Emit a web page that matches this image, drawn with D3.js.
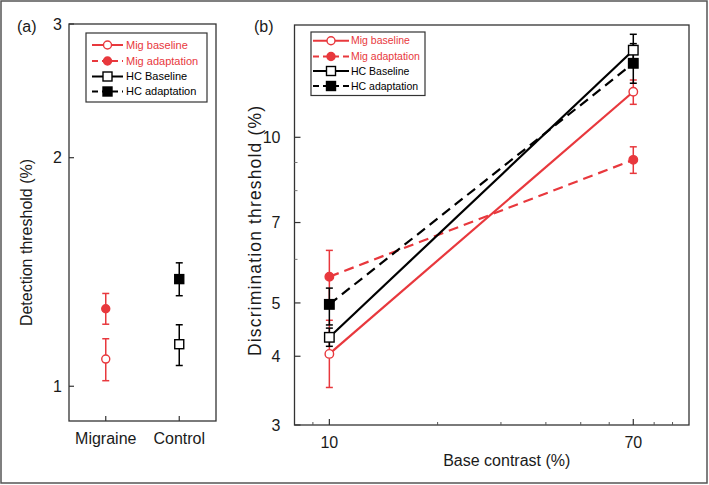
<!DOCTYPE html>
<html><head><meta charset="utf-8">
<script src="https://cdn.jsdelivr.net/npm/d3@7"></script>
<style>body{margin:0;background:#fff}svg{display:block;font-family:"Liberation Sans",Arial,Helvetica,sans-serif}</style>
</head><body><svg id="c" width="709" height="485"></svg>
<script>
// ---------- data ----------
const seriesNames = ["Mig baseline", "Mig adaptation", "HC Baseline", "HC adaptation"];
const seriesGroup = ["Migraine", "Migraine", "Control", "Control"];
const groupCategories = ["Migraine", "Control"];
// panel (a) detection threshold (%)
const detMean = [1.086, 1.265, 1.136, 1.384];
const detLo   = [1.017, 1.207, 1.065, 1.316];
const detHi   = [1.155, 1.325, 1.205, 1.454];
// panel (b) discrimination threshold (%) vs base contrast (%)
const contrasts = [10, 70];
const discMigBase    = [4.04, 12.1];
const discMigBaseLo  = [3.51, 11.48];
const discMigBaseHi  = [4.65, 12.71];
const discMigAdapt   = [5.58, 9.1];
const discMigAdaptLo = [5.0, 8.6];
const discMigAdaptHi = [6.23, 9.61];
const discHCBase     = [4.33, 14.4];
const discHCBaseLo   = [4.17, 13.47];
const discHCBaseHi   = [4.5, 15.39];
const discHCAdapt    = [4.97, 13.63];
const discHCAdaptLo  = [4.56, 12.54];
const discHCAdaptHi  = [5.32, 14.8];
// ticks
const yTicksA = [1, 2, 3];
const yTicksB = [3, 4, 5, 7, 10];
const yMinorB = [6, 8, 9];
const xTicksB = [10, 70];
const xMinorB = [9, 20, 30, 40, 50, 60, 80, 90];

// ---------- styles ----------
const RED = "#e8383d", BLK = "#000";
const colors = [RED, RED, BLK, BLK];
const dashed = [false, true, false, true];
const filled = [false, true, false, true];
const shapes = ["circle", "circle", "square", "square"];
const AX = "#333";
const TXT = "#1a1a1a";
const FS = 16;

const svg = d3.select("#c");
svg.append("rect").attr("x", 1).attr("y", 1).attr("width", 706).attr("height", 482)
  .attr("fill", "none").attr("stroke", "#555").attr("stroke-width", 1.5);

function marker(g, i, x, y, size) {
  if (shapes[i] === "circle") {
    g.append("circle").attr("cx", x).attr("cy", y).attr("r", size / 2)
      .attr("fill", filled[i] ? colors[i] : "#fff").attr("stroke", colors[i]).attr("stroke-width", 1.4);
  } else {
    g.append("rect").attr("x", x - size / 2).attr("y", y - size / 2).attr("width", size).attr("height", size)
      .attr("fill", filled[i] ? colors[i] : "#fff").attr("stroke", colors[i]).attr("stroke-width", 1.4);
  }
}
function errbar(g, i, x, y1, y2) {
  g.append("line").attr("x1", x).attr("x2", x).attr("y1", y1).attr("y2", y2)
    .attr("stroke", colors[i]).attr("stroke-width", 1.5);
  [y1, y2].forEach(yy => g.append("line").attr("x1", x - 3.5).attr("x2", x + 3.5).attr("y1", yy).attr("y2", yy)
    .attr("stroke", colors[i]).attr("stroke-width", 1.5));
}
function legend(g, x0, y0, w, h, rowYs, lx1, lx2, tx, fs, msz) {
  g.append("rect").attr("x", x0).attr("y", y0).attr("width", w).attr("height", h)
    .attr("fill", "#fff").attr("stroke", AX).attr("stroke-width", 1.2);
  seriesNames.forEach((n, i) => {
    const y = rowYs[i];
    g.append("line").attr("x1", lx1).attr("x2", lx2).attr("y1", y).attr("y2", y)
      .attr("stroke", colors[i]).attr("stroke-width", 2).attr("stroke-dasharray", dashed[i] ? "6,4" : null);
    marker(g, i, (lx1 + lx2) / 2, y, shapes[i] === "circle" ? msz - 1 : msz);
    g.append("text").attr("x", tx).attr("y", y).attr("dy", "0.35em").attr("font-size", fs)
      .attr("fill", colors[i]).text(n);
  });
}

// ---------- panel (a) ----------
const A = { l: 69, r: 216, t: 24, b: 421 };
const xA = d3.scalePoint().domain(groupCategories).range([A.l, A.r]).padding(0.5);
const yA = d3.scaleLog().domain([0.9, 3]).range([A.b, A.t]);
const gA = svg.append("g");
gA.append("rect").attr("x", A.l).attr("y", A.t).attr("width", A.r - A.l).attr("height", A.b - A.t)
  .attr("fill", "none").attr("stroke", AX).attr("stroke-width", 1.3);
yTicksA.forEach(v => {
  gA.append("line").attr("x1", A.l).attr("x2", A.l + 5).attr("y1", yA(v)).attr("y2", yA(v)).attr("stroke", AX).attr("stroke-width", 1.2);
  gA.append("text").attr("x", A.l - 7).attr("y", yA(v)).attr("dy", "0.35em").attr("text-anchor", "end")
    .attr("font-size", FS).attr("fill", TXT).text(v);
});
groupCategories.forEach(c => {
  gA.append("line").attr("x1", xA(c)).attr("x2", xA(c)).attr("y1", A.b).attr("y2", A.b - 5).attr("stroke", AX).attr("stroke-width", 1.2);
  gA.append("text").attr("x", xA(c)).attr("y", A.b + 23).attr("text-anchor", "middle")
    .attr("font-size", FS).attr("fill", TXT).text(c);
});
seriesNames.forEach((n, i) => {
  const x = xA(seriesGroup[i]);
  errbar(gA, i, x, yA(detLo[i]), yA(detHi[i]));
  marker(gA, i, x, yA(detMean[i]), shapes[i] === "circle" ? 8 : 9);
});
legend(gA, 86, 33, 121, 69, [45, 61, 76.5, 91.5], 92, 123, 126, 11, 9);
svg.append("text").attr("transform", `translate(32,${(A.t + A.b) / 2 + 20}) rotate(-90)`).attr("text-anchor", "middle")
  .attr("font-size", FS).attr("fill", TXT).text("Detection threshold (%)");
svg.append("text").attr("x", 17).attr("y", 32).attr("font-size", FS).attr("fill", TXT).text("(a)");

// ---------- panel (b) ----------
const B = { l: 294.5, r: 689, t: 25, b: 425 };
const xB = d3.scaleLog().domain([8, 100]).range([B.l, B.r]);
const yB = d3.scaleLog().domain([3, 16]).range([B.b, B.t]);
const gB = svg.append("g");
gB.append("rect").attr("x", B.l).attr("y", B.t).attr("width", B.r - B.l).attr("height", B.b - B.t)
  .attr("fill", "none").attr("stroke", AX).attr("stroke-width", 1.3);
yTicksB.forEach(v => {
  gB.append("line").attr("x1", B.l).attr("x2", B.l + 6).attr("y1", yB(v)).attr("y2", yB(v)).attr("stroke", AX).attr("stroke-width", 1.2);
  gB.append("text").attr("x", B.l - 14).attr("y", yB(v)).attr("dy", "0.35em").attr("text-anchor", "end")
    .attr("font-size", FS).attr("fill", TXT).text(v);
});
yMinorB.forEach(v => gB.append("line").attr("x1", B.l).attr("x2", B.l + 3).attr("y1", yB(v)).attr("y2", yB(v)).attr("stroke", "#777").attr("stroke-width", 1));
xTicksB.forEach(v => {
  gB.append("line").attr("x1", xB(v)).attr("x2", xB(v)).attr("y1", B.b).attr("y2", B.b - 6).attr("stroke", AX).attr("stroke-width", 1.2);
  gB.append("text").attr("x", xB(v)).attr("y", B.b + 23).attr("text-anchor", "middle")
    .attr("font-size", FS).attr("fill", TXT).text(v);
});
xMinorB.forEach(v => gB.append("line").attr("x1", xB(v)).attr("x2", xB(v)).attr("y1", B.b).attr("y2", B.b - 3).attr("stroke", "#555").attr("stroke-width", 1));

const means = [discMigBase, discMigAdapt, discHCBase, discHCAdapt];
const los = [discMigBaseLo, discMigAdaptLo, discHCBaseLo, discHCAdaptLo];
const his = [discMigBaseHi, discMigAdaptHi, discHCBaseHi, discHCAdaptHi];
const line = d3.line().x((d, j) => xB(contrasts[j])).y(d => yB(d));
seriesNames.forEach((n, i) => {
  gB.append("path").attr("d", line(means[i])).attr("fill", "none").attr("stroke", colors[i])
    .attr("stroke-width", 2.2).attr("stroke-dasharray", dashed[i] ? "10,6" : null);
});
seriesNames.forEach((n, i) => {
  contrasts.forEach((c, j) => errbar(gB, i, xB(c), yB(los[i][j]), yB(his[i][j])));
});
seriesNames.forEach((n, i) => {
  contrasts.forEach((c, j) => marker(gB, i, xB(c), yB(means[i][j]), shapes[i] === "circle" ? 8.5 : 9.5));
});
legend(gB, 311, 32, 114, 63.5, [40.7, 56.5, 71, 86], 313, 349, 351, 10.5, 9);
svg.append("text").attr("transform", `translate(261,231) rotate(-90)`).attr("text-anchor", "middle")
  .attr("font-size", 17.5).attr("fill", TXT).attr("textLength", 250).attr("lengthAdjust", "spacing")
  .text("Discrimination threshold (%)");
svg.append("text").attr("x", (B.l + B.r) / 2 + 15).attr("y", 466).attr("text-anchor", "middle")
  .attr("font-size", FS).attr("fill", TXT).text("Base contrast (%)");
svg.append("text").attr("x", 254).attr("y", 32).attr("font-size", FS).attr("fill", TXT).text("(b)");
</script></body></html>
